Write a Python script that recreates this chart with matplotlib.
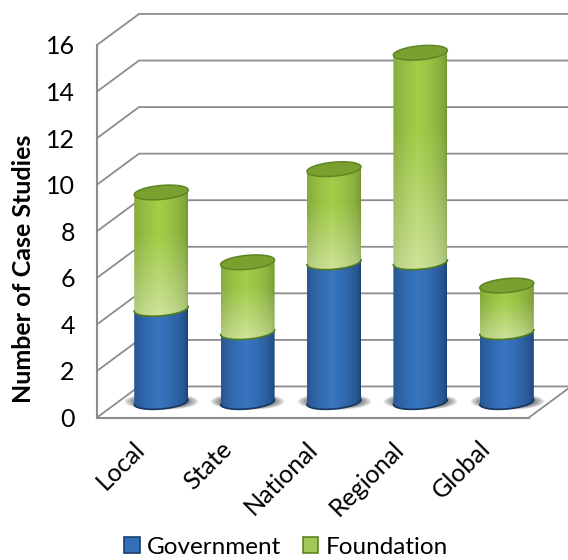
import numpy as np
import matplotlib
matplotlib.use('Agg')
import matplotlib.pyplot as plt
import matplotlib.transforms as mtransforms
from matplotlib.patches import Patch, Polygon

categories = ['Local', 'State', 'National', 'Regional', 'Global']
government = [4, 3, 6, 6, 3]
foundation = [5, 3, 4, 9, 2]
y_ticks = [0, 2, 4, 6, 8, 10, 12, 14, 16]

# floor depth in data units, bars stand half way back
DX = 0.486
DY = 1.333
RX = 0.3125
RY = 0.30
SKEW = 0.10
GREY = '#8c8c8c'

plt.rcParams['font.family'] = ['Lato', 'DejaVu Sans']

fig = plt.figure(figsize=(5.68, 5.60), dpi=100)
# axes box is the front plane of the 3d box
ax = fig.add_axes([97 / 568, (560 - 417.5) / 560, 432 / 568, 372.5 / 560])
ax.patch.set_visible(False)


def edge(cx, cy, t):
    return cx + RX * np.cos(t), cy + RY * np.sin(t) + SKEW * np.cos(t)


def side_colours(u, centre, rim):
    # dark at both rims, lightest a little left of the middle
    w = np.clip(1 - np.abs(u + 0.08) / 1.08, 0, 1) ** 0.45
    return rim + (centre - rim) * w[..., None]


def segment(cx, lo, hi, shades, top_frac):
    t = np.linspace(np.pi, 2 * np.pi, 60)
    xa, ya = edge(cx, lo, t)
    xb, yb = edge(cx, hi, t[::-1])
    poly = Polygon(np.column_stack([np.r_[xa, xb], np.r_[ya, yb]]), closed=True,
                   transform=ax.transData, fc='none', ec='none')
    u = np.linspace(-1, 1, 80)
    v = np.linspace(0, 1, 120)
    uu, vv = np.meshgrid(u, v)
    # mix between the lower and the upper shade going up the segment
    mix = np.clip(vv / top_frac, 0, 1)[..., None]
    lower = side_colours(uu, shades[0], shades[1])
    upper = side_colours(uu, shades[2], shades[3])
    rgb = (lower + (upper - lower) * mix) / 255
    im = ax.imshow(rgb, extent=[cx - RX, cx + RX, lo - RY - SKEW, hi + RY + SKEW],
                   origin='lower', aspect='auto', zorder=4, interpolation='bilinear')
    im.set_clip_path(poly)
    im.set_clip_box(fig.bbox)


def shadow(cx, cy):
    xs = np.linspace(-1, 1, 120)
    ys = np.linspace(-1, 1, 50)
    xx, yy = np.meshgrid(xs, ys)
    a = np.clip(1 - np.sqrt(xx ** 2 + yy ** 2), 0, 1) ** 0.7 * 1.5
    rgba = np.zeros(a.shape + (4,))
    rgba[..., :3] = 0.25
    rgba[..., 3] = np.clip(a, 0, 0.7)
    im = ax.imshow(rgba, extent=[cx - 0.43, cx + 0.43, cy - 0.36, cy + 0.36],
                   origin='lower', aspect='auto', zorder=3, interpolation='bilinear')
    im.set_clip_box(fig.bbox)


# grid on the side wall and the back wall, floor outline
for v in y_ticks:
    ax.plot([-0.5, -0.5 + DX, 4.5 + DX], [v, v + DY, v + DY], color=GREY, lw=1.3,
            clip_on=False, zorder=1, solid_joinstyle='miter')
ax.plot([4.5, 4.5 + DX], [0, DY], color=GREY, lw=1.3, clip_on=False, zorder=1)

blue = [np.array(c, float) for c in [(56, 118, 192), (26, 62, 112), (56, 118, 192), (26, 62, 112)]]
green = [np.array(c, float) for c in [(208, 228, 155), (160, 186, 112), (162, 206, 72), (112, 144, 50)]]

for i in range(len(categories)):
    cx = i + DX / 2
    base = DY / 2
    g = government[i]
    f = foundation[i]
    shadow(cx, base)
    segment(cx, base, base + g, blue, 1.0)
    segment(cx, base + g, base + g + f, green, 0.62)

    t = np.linspace(np.pi, 2 * np.pi, 60)
    xb, yb = edge(cx, base, t)
    ax.plot(xb, yb, color='#16355f', lw=1.2, zorder=5, clip_on=False)
    xm, ym = edge(cx, base + g, t)
    ax.plot(xm, ym, color='#4f7a1e', lw=1.2, zorder=5, clip_on=False)

    t = np.linspace(0, 2 * np.pi, 120)
    xt, yt = edge(cx, base + g + f, t)
    ax.add_patch(Polygon(np.column_stack([xt, yt]), closed=True, fc='#7aa030', ec='#5f8424',
                         lw=1.1, zorder=6, clip_on=False))

ax.set_xlim(-0.5, 4.5)
ax.set_ylim(0, 16)

for side in ['top', 'right']:
    ax.spines[side].set_visible(False)
for side in ['left', 'bottom']:
    ax.spines[side].set_color(GREY)
    ax.spines[side].set_linewidth(1.5)
    ax.spines[side].set_zorder(2)

ax.set_yticks(y_ticks)
ax.set_xticks(range(len(categories)))
ax.set_xticklabels(categories, rotation=45, ha='right', rotation_mode='anchor')
ax.tick_params(axis='both', length=0, labelsize=18, labelcolor='black')
ax.tick_params(axis='y', pad=16)
ax.tick_params(axis='x', pad=14)
shift = mtransforms.ScaledTranslation(-7 / 100, 0, fig.dpi_scale_trans)
for lab in ax.get_xticklabels():
    lab.set_transform(lab.get_transform() + shift)

fig.text(24 / 568, 1 - 269 / 560, 'Number of Case Studies', rotation=90, fontsize=18,
         fontweight='bold', ha='center', va='center')

handles = [Patch(fc='#3470ba', ec='#1c3f70', lw=1.2, label='Government'),
           Patch(fc='#a0c85a', ec='#5f8424', lw=1.2, label='Foundation')]
fig.legend(handles=handles, ncol=2, frameon=False, fontsize=17.5, loc='center',
           bbox_to_anchor=(286 / 568, 1 - 547 / 560), handlelength=0.62, handleheight=0.62,
           handletextpad=0.3, columnspacing=0.9, borderpad=0, borderaxespad=0)

fig.savefig('out.png', dpi=100)
